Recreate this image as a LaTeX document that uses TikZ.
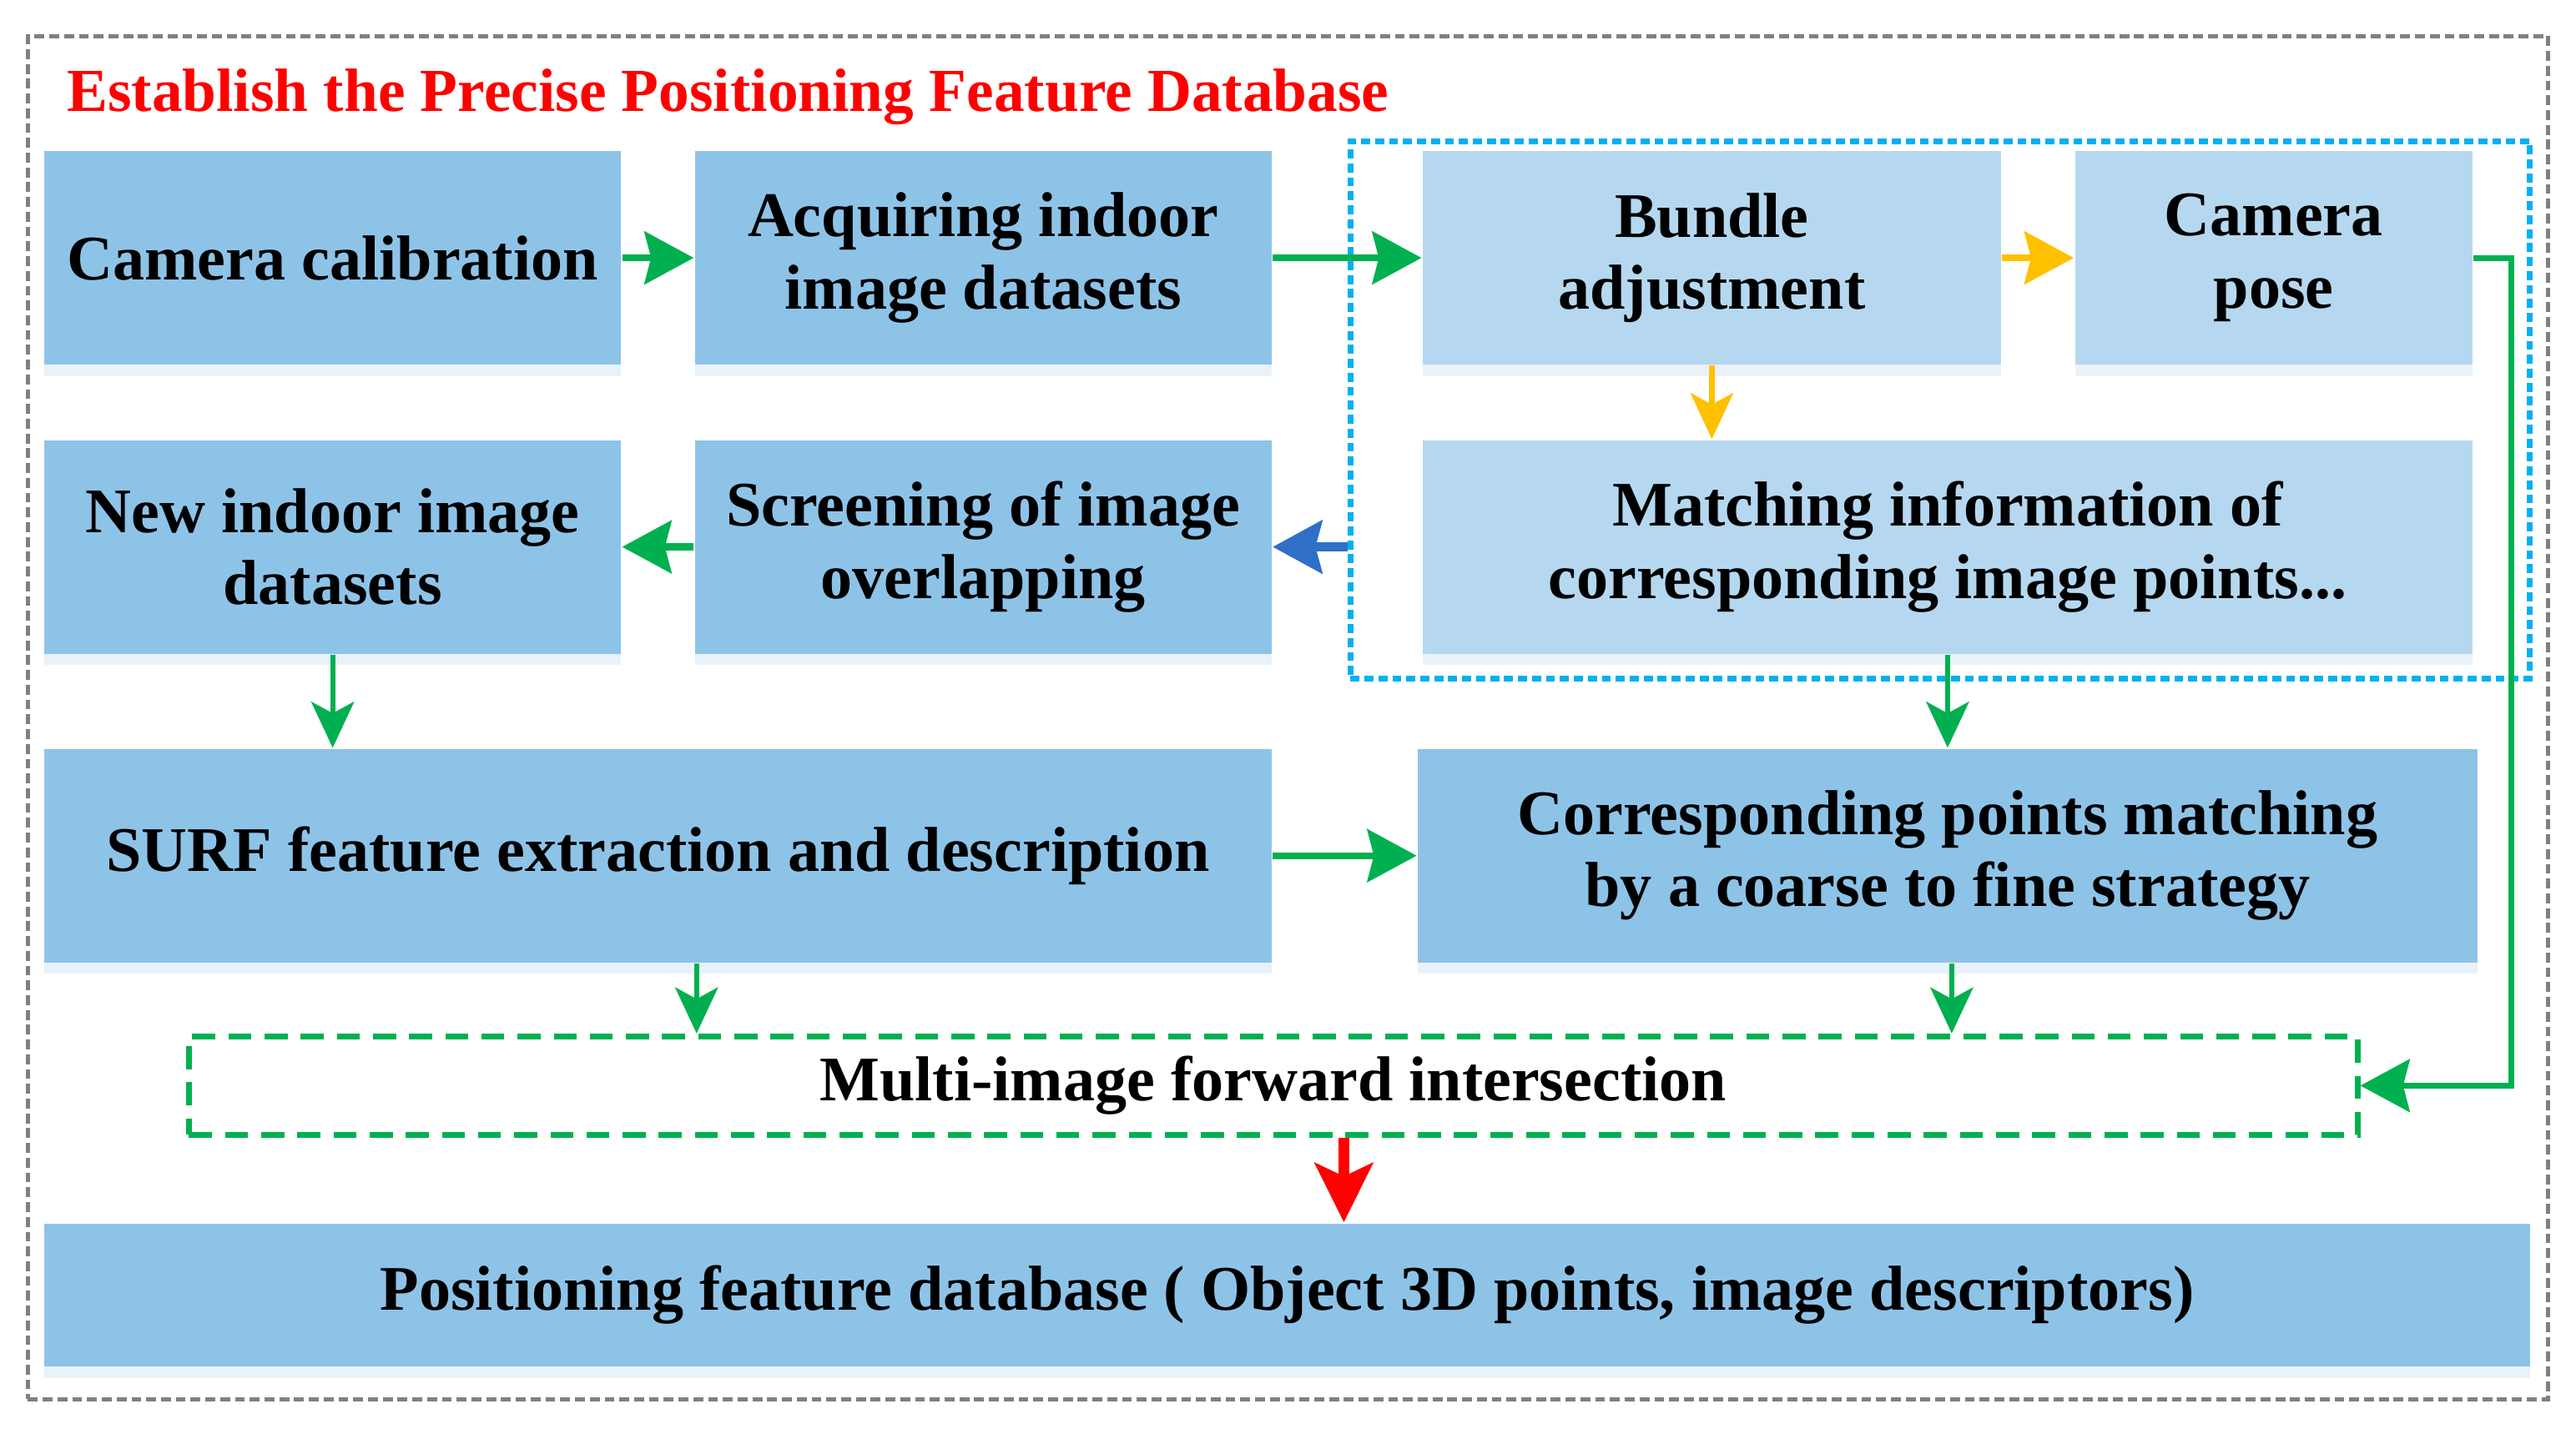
\documentclass[tikz,border=0pt]{standalone}
\usepackage{fontspec}
\setmainfont{Liberation Serif}
\usetikzlibrary{arrows.meta,shadows,calc}
\definecolor{boxdark}{HTML}{8EC3E8}
\definecolor{boxlight}{HTML}{B5D8F0}
\definecolor{arrgreen}{HTML}{00B050}
\definecolor{arryellow}{HTML}{FFC000}
\definecolor{arrblue}{HTML}{2F6FC8}
\definecolor{dashblue}{HTML}{00B0F0}
\definecolor{shade}{HTML}{DCEAF5}

\begin{document}
\begin{tikzpicture}[x=0.1mm,y=-0.1mm,font=\fontsize{11}{12.5}\selectfont\bfseries]
\tikzset{B/.style={fill=boxdark,inner sep=1mm,align=center,minimum height=13mm,
drop shadow={shadow xshift=0mm,shadow yshift=-0.7mm,fill=shade,opacity=.6}},
L/.style={B,fill=boxlight},
G/.style={-{Stealth[length=3mm,width=3.2mm,inset=0.4mm]},line width=1.2pt,draw=arrgreen},
V/.style={G,line width=0.9pt,-{Stealth[length=2.8mm,width=2.6mm,inset=0.7mm]}}
}
\useasboundingbox (0,0) rectangle (1568,873);

% outer frame and title
\node(frame)[draw=gray,line width=0.8pt,dash pattern=on 0.6mm off 0.3mm,minimum width=153.4mm,minimum height=83mm] at (784,437){};
\node(title)[anchor=west,text=red,inner sep=0pt,font=\fontsize{10.6}{12}\selectfont\bfseries] at (40,59){Establish the Precise Positioning Feature Database};

% bundle adjustment group
\node(ba)[draw=dashblue,line width=1pt,dash pattern=on 0.55mm off 0.3mm,minimum width=71.8mm,minimum height=32.7mm] at (1181,249.5){};

% intersection box
\node(multi)[draw=arrgreen,line width=1pt,dash pattern=on 1.4mm off 0.8mm,minimum width=132mm,minimum height=6mm] at (775,661){Multi-image forward intersection};

% the boxes
\node(cam)[B,minimum width=35.1mm] at (202.5,157){Camera calibration};
\node(acq)[B,minimum width=35.1mm] at (598.5,157){Acquiring indoor\\image datasets};
\node(bun)[L,minimum width=35.2mm] at (1042,157){Bundle\\adjustment};
\node(pose)[L,minimum width=24.2mm] at (1384,157){Camera\\pose};
\node(new)[B,minimum width=35.1mm] at (202.5,333){New indoor image\\datasets};
\node(scr)[B,minimum width=35.1mm] at (598.5,333){Screening of image\\overlapping};
\node(mat)[L,minimum width=63.9mm] at (1185.5,333){Matching information of\\corresponding image points...};
\node(surf)[B,minimum width=74.7mm] at (400.5,521){SURF feature extraction and description};
\node(cor)[B,minimum width=64.5mm] at (1185.5,521){Corresponding points matching\\by a coarse to fine strategy};
\node(pos)[B,minimum width=151.3mm,minimum height=8.7mm] at (783.5,788.5){Positioning feature database ( Object 3D points, image descriptors)};

% connectors
\draw[G] (cam) -- (acq);
\draw[G] (acq) -- (bun);
\draw[G,draw=arryellow] (bun) -- (pose);
\draw[V,draw=arryellow] (bun) -- (bun.south |- mat.north);
\draw[G,draw=arrblue,line width=1.6pt] (ba.west |- scr) -- (scr.east);
\draw[G] (scr) -- (new);
\draw[V] (new) -- (new |- surf.north);
\draw[V] (mat) -- (mat |- cor.north);
\draw[G] (surf) -- (cor);
\draw[V] ([xshift=2.35mm]surf.south) -- ([xshift=2.35mm]surf.south |- multi.north);
\draw[V] ([xshift=0.25mm]cor.south) -- ([xshift=0.25mm]cor.south |- multi.north);
\draw[G,line width=1pt] (pose.east) -- ++(23,0) |- (multi.east);
\draw[-{Stealth[length=3.6mm,width=3.5mm,inset=0.8mm]},draw=red,line width=2pt] ([xshift=4.3mm]multi.south) -- ([xshift=4.3mm]multi.south |- pos.north);

\end{tikzpicture}
\end{document}
